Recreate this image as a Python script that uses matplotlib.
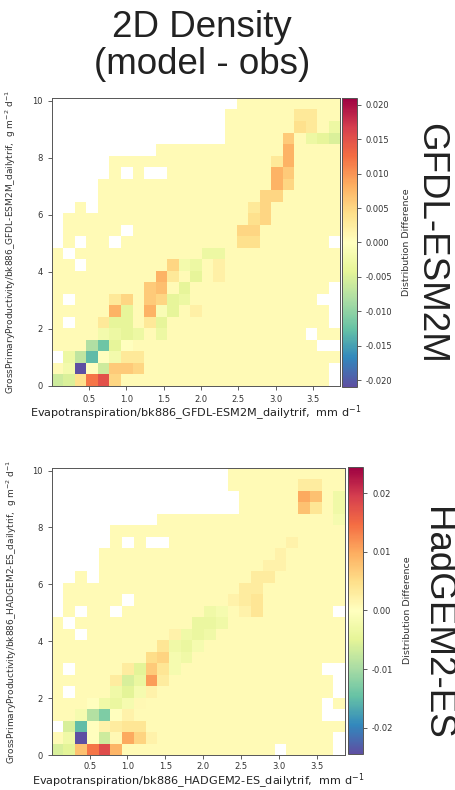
import matplotlib.pyplot as plt
import numpy as np

# 2D histogram difference (model - obs) of GPP against ET, 25 x 25 bins
et_max = 3.87
gpp_max = 10.1
nbins = 25

x_ticks = [0.5, 1.0, 1.5, 2.0, 2.5, 3.0, 3.5]
y_ticks = [0, 2, 4, 6, 8, 10]

# occupied bins ('o') and empty bins ('.'), top row of the grid first
gfdl_mask = [
    "................ooooooooo",
    "...............oooooooooo",
    "...............oooooooooo",
    "...............oooooooooo",
    ".........oooooooooooooooo",
    ".....oooooooooooooooooooo",
    ".....o.o..ooooooooooooooo",
    "....ooooooooooooooooooooo",
    "....ooooooooooooooooooooo",
    "..o.ooooooooooooooooooooo",
    ".oooooooooooooooooooooooo",
    ".ooooo.oooooooooooooooooo",
    ".o.oo.oooooooooooooooooo.",
    "o.ooooooooooooooooooooooo",
    "oo.oooooooooooooooooooooo",
    "ooooooooooooooooooooooooo",
    "oooooooooooooooooooooooo.",
    "o.ooooooooooooooooooooo..",
    "oooooooooooooooooooooooo.",
    "o.oooooooooooooooooooooo.",
    "oooooooooooooooooooooo.oo",
    "ooooooooooooooooooooooo..",
    ".oooooooooooooooooooooooo",
    "oooooooooooooooooooooooo.",
    "oooooooooooooooooooooooo.",
]
gfdl_bg = 0.0008
# (column, row, difference) for bins that stand out from the background
gfdl_cells = [
    (0, 0, -0.006), (1, 0, -0.005), (2, 0, 0.004), (3, 0, 0.012), (4, 0, 0.015), (5, 0, 0.005),
    (1, 1, -0.002), (2, 1, -0.021), (3, 1, 0.0), (4, 1, -0.006), (5, 1, 0.006), (6, 1, 0.006),
    (7, 1, 0.005),
    (1, 2, -0.003), (2, 2, -0.007), (3, 2, -0.013), (4, 2, 0.0), (5, 2, -0.002), (6, 2, 0.003),
    (7, 2, 0.003),
    (3, 3, -0.008), (4, 3, -0.012), (5, 3, -0.004), (6, 3, 0.0),
    (4, 4, -0.002), (5, 4, -0.003), (6, 4, -0.004), (7, 4, -0.003), (9, 4, -0.003),
    (4, 5, 0.003), (5, 5, -0.004), (6, 5, -0.004), (8, 5, 0.003), (9, 5, -0.004),
    (5, 6, 0.008), (6, 6, -0.004), (8, 6, 0.008), (9, 6, -0.001), (10, 6, -0.004), (12, 6, 0.002),
    (5, 7, 0.003), (6, 7, 0.005), (8, 7, 0.006), (9, 7, 0.005), (10, 7, -0.004), (11, 7, -0.003),
    (8, 8, 0.006), (9, 8, 0.007), (11, 8, -0.004),
    (9, 9, 0.008), (10, 9, 0.003), (12, 9, -0.004), (14, 9, 0.002),
    (10, 10, 0.005), (11, 10, -0.002), (12, 10, -0.003), (14, 10, 0.002),
    (13, 11, -0.003), (14, 11, -0.003),
    (16, 12, 0.004), (17, 12, 0.004),
    (16, 13, 0.005), (17, 13, 0.005),
    (17, 14, 0.004), (18, 14, 0.005),
    (17, 15, 0.003), (18, 15, 0.005),
    (18, 16, 0.005), (19, 16, 0.005),
    (19, 17, 0.008), (20, 17, 0.005),
    (19, 18, 0.008), (20, 18, 0.006),
    (19, 19, 0.003), (20, 19, 0.008),
    (20, 20, 0.008),
    (20, 21, 0.006), (22, 21, -0.003), (23, 21, -0.004), (24, 21, -0.005),
    (21, 22, 0.004), (22, 22, 0.003), (24, 22, -0.003),
    (21, 23, 0.003), (22, 23, 0.003),
]

had_mask = [
    "...............oooooooooo",
    "...............oooooooooo",
    "................ooooooooo",
    "................ooooooooo",
    ".........oooooooooooooooo",
    ".....oooooooooooooooooooo",
    ".....o.o..ooooooooooooooo",
    "....ooooooooooooooooooooo",
    "....ooooooooooooooooooooo",
    "..o.ooooooooooooooooooooo",
    ".oooooooooooooooooooooooo",
    ".ooooo.oooooooooooooooooo",
    ".o.oo.oooooooooooooooooo.",
    "o.ooooooooooooooooooooooo",
    "oo.oooooooooooooooooooooo",
    "ooooooooooooooooooooooooo",
    "ooooooooooooooooooooooooo",
    "o.ooooooooooooooooooooo..",
    "oooooooooooooooooooooooo.",
    "o.oooooooooooooooooooooo.",
    "ooooooooooooooooooooooo.o",
    "ooooooooooooooooooooooo..",
    ".oooooooooooooooooooooooo",
    "oooooooooooooooooooooooo.",
    "ooooooooooooooooooo.oooo.",
]
had_bg = 0.0008
had_cells = [
    (0, 0, -0.006), (1, 0, -0.005), (2, 0, 0.008), (3, 0, 0.014), (4, 0, 0.018), (5, 0, 0.009),
    (1, 1, -0.003), (2, 1, -0.0245), (3, 1, 0.0), (4, 1, -0.007), (5, 1, 0.001), (6, 1, 0.010),
    (7, 1, 0.006), (8, 1, 0.002),
    (1, 2, -0.006), (2, 2, -0.015), (3, 2, 0.0), (4, 2, 0.002), (5, 2, 0.003), (6, 2, 0.004),
    (7, 2, 0.004),
    (2, 3, -0.002), (3, 3, -0.009), (4, 3, -0.013), (5, 3, 0.0), (6, 3, 0.002),
    (3, 4, 0.0), (4, 4, -0.003), (5, 4, -0.004), (6, 4, -0.002), (7, 4, 0.001),
    (5, 5, -0.003), (6, 5, -0.005), (7, 5, -0.002), (8, 5, 0.002),
    (5, 6, 0.003), (6, 6, -0.006), (7, 6, -0.004), (8, 6, 0.011), (9, 6, 0.003),
    (6, 7, 0.003), (7, 7, -0.005), (8, 7, 0.007), (9, 7, 0.004), (10, 7, -0.002),
    (8, 8, 0.005), (9, 8, 0.006), (10, 8, -0.002), (11, 8, -0.003),
    (9, 9, 0.004), (10, 9, -0.003), (11, 9, -0.004), (12, 9, -0.002),
    (10, 10, 0.002), (11, 10, -0.003), (12, 10, -0.004), (13, 10, -0.003),
    (12, 11, -0.004), (13, 11, -0.004), (14, 11, -0.003),
    (13, 12, -0.003), (14, 12, -0.002), (16, 12, 0.002), (17, 12, 0.004),
    (15, 13, 0.002), (16, 13, 0.003), (17, 13, 0.004),
    (16, 14, 0.003), (17, 14, 0.003),
    (17, 15, 0.003), (18, 15, 0.003),
    (18, 16, 0.002), (19, 16, 0.002),
    (19, 17, 0.002),
    (20, 18, 0.002),
    (24, 20, -0.002),
    (21, 21, 0.008), (22, 21, 0.004), (24, 21, -0.003),
    (21, 22, 0.010), (22, 22, 0.008), (24, 22, -0.003),
    (21, 23, 0.003), (22, 23, 0.003),
]


def build_grid(mask, bg, cells):
    grid = np.full((nbins, nbins), np.nan)
    for i, line in enumerate(mask):
        r = nbins - 1 - i
        for c, ch in enumerate(line):
            if ch == "o":
                grid[r, c] = bg
    for c, r, v in cells:
        grid[r, c] = v
    return grid


def draw_panel(ax_rect, cax_rect, grid, model, cticks, cfmt, xlab_y, ylab_x, xpad=3.5):
    ax = fig.add_axes(ax_rect)
    cax = fig.add_axes(cax_rect)
    xe = np.linspace(0, et_max, nbins + 1)
    ye = np.linspace(0, gpp_max, nbins + 1)
    vlim = np.nanmax(np.abs(grid))
    pcm = ax.pcolormesh(xe, ye, np.ma.masked_invalid(grid), cmap="Spectral_r",
                        vmin=-vlim, vmax=vlim)
    ax.set_xlim(0, et_max)
    ax.set_ylim(0, gpp_max)
    ax.set_xticks(x_ticks)
    ax.set_yticks(y_ticks)
    ax.tick_params(labelsize=6, length=3, width=0.6, color="#444444", labelcolor="#333333")
    ax.tick_params(axis="x", pad=xpad)
    for s in ax.spines.values():
        s.set_color("#555555")
        s.set_linewidth(0.7)
    ax.set_xlabel("Evapotranspiration/bk886_" + model + "_dailytrif,  mm d$^{-1}$",
                  fontsize=8.1, color="#222222")
    ax.set_ylabel("GrossPrimaryProductivity/bk886_" + model + "_dailytrif,  g m$^{-2}$ d$^{-1}$",
                  fontsize=6.5, color="#333333")
    ax.xaxis.set_label_coords(0.5, xlab_y)
    ax.yaxis.set_label_coords(ylab_x, 0.5)

    cbar = fig.colorbar(pcm, cax=cax, ticks=cticks, format=cfmt)
    cbar.ax.tick_params(labelsize=6, length=3, width=0.6, color="#444444", labelcolor="#333333")
    cbar.outline.set_edgecolor("#555555")
    cbar.outline.set_linewidth(0.7)
    cbar.set_label("Distribution Difference", fontsize=6.8, color="#333333", labelpad=7)
    return ax


fig = plt.figure(figsize=(4.55, 7.9), dpi=100)

gfdl = build_grid(gfdl_mask, gfdl_bg, gfdl_cells)
had = build_grid(had_mask, had_bg, had_cells)

draw_panel([0.1136, 0.5114, 0.6347, 0.3646], [0.7523, 0.5101, 0.0316, 0.3659], gfdl,
           "GFDL-ESM2M", [-0.02, -0.015, -0.01, -0.005, 0.0, 0.005, 0.01, 0.015, 0.02],
           "%.3f", -0.062, -0.118)
draw_panel([0.1136, 0.0443, 0.6446, 0.3637], [0.7648, 0.0456, 0.033, 0.3633], had,
           "HADGEM2-ES", [-0.02, -0.01, 0.0, 0.01, 0.02],
           "%.2f", -0.057, -0.112, xpad=2.0)

big = dict(family=["Liberation Sans", "DejaVu Sans"], fontsize=26.5, color="#222222")
fig.text(202 / 455, 1 - 46 / 790, "2D Density\n(model - obs)", ha="center", va="center",
         linespacing=1.05, **big)
fig.text(431 / 455, 1 - 243 / 790, "GFDL-ESM2M", rotation=-90, ha="center", va="center", **big)
fig.text(437 / 455, 1 - 623 / 790, "HadGEM2-ES", rotation=-90, ha="center", va="center", **big)

fig.savefig("out.png", dpi=100)
